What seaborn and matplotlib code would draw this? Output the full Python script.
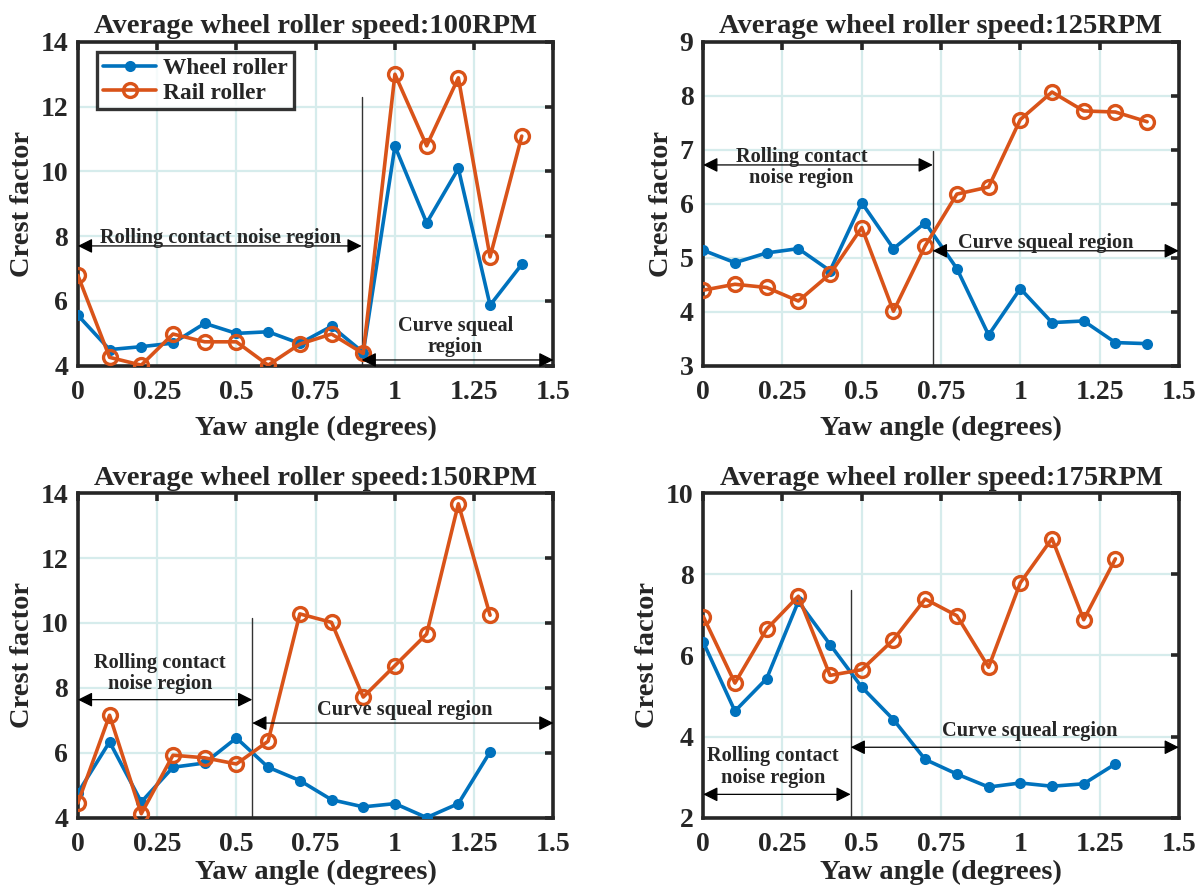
"""Crest factor vs yaw angle for four average wheel roller speeds."""

import matplotlib
matplotlib.use("Agg")
import matplotlib.pyplot as plt
import pandas as pd
import seaborn as sns

# Datos
yaw_14 = [0.0, 0.1, 0.2, 0.3, 0.4, 0.5, 0.6, 0.7, 0.8, 0.9, 1.0, 1.1, 1.2, 1.3, 1.4]
yaw_13 = [0.0, 0.1, 0.2, 0.3, 0.4, 0.5, 0.6, 0.7, 0.8, 0.9, 1.0, 1.1, 1.2, 1.3]

wheel_100 = [5.56, 4.50, 4.59, 4.70, 5.31, 5.00, 5.05, 4.69, 5.22, 4.41,
             10.78, 8.41, 10.09, 5.87, 7.13]
rail_100 = [6.79, 4.26, 4.02, 4.98, 4.74, 4.74, 4.02, 4.67, 4.98, 4.38,
            13.0, 10.79, 12.89, 7.36, 11.09]

wheel_125 = [5.14, 4.91, 5.09, 5.17, 4.76, 6.02, 5.17, 5.65, 4.80, 3.57,
             4.43, 3.80, 3.83, 3.43, 3.41]
rail_125 = [4.40, 4.51, 4.45, 4.20, 4.70, 5.56, 4.01, 5.22, 6.18, 6.31,
            7.56, 8.07, 7.72, 7.70, 7.52]

wheel_150 = [4.77, 6.34, 4.49, 5.56, 5.69, 6.46, 5.56, 5.15, 4.56, 4.34,
             4.44, 4.01, 4.44, 6.03]
rail_150 = [4.46, 7.16, 4.13, 5.93, 5.85, 5.66, 6.36, 10.28, 10.02, 7.72,
            8.69, 9.66, 13.67, 10.24]

wheel_175 = [6.33, 4.63, 5.43, 7.33, 6.27, 5.22, 4.42, 3.44, 3.08, 2.76,
             2.86, 2.78, 2.84, 3.33]
rail_175 = [6.96, 5.32, 6.65, 7.46, 5.51, 5.65, 6.39, 7.39, 6.98, 5.71,
            7.79, 8.88, 6.88, 8.38]

speeds = ["100", "125", "150", "175"]
x_ticks = [0, 0.25, 0.5, 0.75, 1, 1.25, 1.5]
x_tick_labels = ["0", "0.25", "0.5", "0.75", "1", "1.25", "1.5"]

BLUE = "#0072BD"
ORANGE = "#D95319"
GRID = "#d6ecec"
SPINE = "#262626"

sns.set_theme(style="white")
plt.rcParams["font.family"] = ["Liberation Serif", "DejaVu Serif"]
plt.rcParams["font.weight"] = "bold"
plt.rcParams["axes.labelweight"] = "bold"
plt.rcParams["axes.titleweight"] = "bold"

fig = plt.figure(figsize=(11.98, 8.90), dpi=100)

# posiciones de los ejes [left, bottom, width, height]
positions = [
    [0.065, 0.589, 0.397, 0.364],
    [0.587, 0.589, 0.397, 0.364],
    [0.065, 0.081, 0.397, 0.365],
    [0.587, 0.081, 0.397, 0.365],
]
# separacion de la etiqueta x (la fila inferior queda pegada al borde)
xlabel_pads = [8, 8, 2.5, 2.5]

# anotaciones de regiones por panel
annotations = [
    dict(ylim=(4, 14), yticks=[4, 6, 8, 10, 12, 14], xv=0.895, yv_top=12.3,
         roll_y=7.7, roll_txt="Rolling contact noise region", roll_xy=(0.45, 7.95),
         curve_y=4.18, curve_txt="Curve squeal\nregion", curve_xy=(1.19, 4.9)),
    dict(ylim=(3, 9), yticks=[3, 4, 5, 6, 7, 8, 9], xv=0.724, yv_top=6.98,
         roll_y=6.72, roll_txt="Rolling contact\nnoise region", roll_xy=(0.31, 6.67),
         curve_y=5.13, curve_txt="Curve squeal region", curve_xy=(1.08, 5.27)),
    dict(ylim=(4, 14), yticks=[4, 6, 8, 10, 12, 14], xv=0.55, yv_top=10.15,
         roll_y=7.64, roll_txt="Rolling contact\nnoise region", roll_xy=(0.26, 8.45),
         curve_y=6.92, curve_txt="Curve squeal region", curve_xy=(1.03, 7.33)),
    dict(ylim=(2, 10), yticks=[2, 4, 6, 8, 10], xv=0.465, yv_top=7.62,
         roll_y=2.58, roll_txt="Rolling contact\nnoise region", roll_xy=(0.22, 3.25),
         curve_y=3.74, curve_txt="Curve squeal region", curve_xy=(1.03, 4.15)),
]

series = [
    (yaw_14, wheel_100, rail_100),
    (yaw_14, wheel_125, rail_125),
    (yaw_13, wheel_150, rail_150),
    (yaw_13, wheel_175, rail_175),
]

for pos, pad, ann, speed, (yaw, wheel, rail) in zip(
        positions, xlabel_pads, annotations, speeds, series):
    ax = fig.add_axes(pos)
    df = pd.DataFrame({"yaw": yaw, "wheel": wheel, "rail": rail})

    sns.lineplot(data=df, x="yaw", y="wheel", ax=ax, color=BLUE, linewidth=2.6,
                 marker="o", markersize=8, markeredgewidth=0, label="Wheel roller",
                 zorder=3)
    sns.lineplot(data=df, x="yaw", y="rail", ax=ax, color=ORANGE, linewidth=2.6,
                 marker="o", markersize=10, markerfacecolor="none",
                 markeredgecolor=ORANGE, markeredgewidth=2.4, label="Rail roller",
                 zorder=4)

    ax.set_xlim(0, 1.5)
    ax.set_ylim(*ann["ylim"])
    ax.set_xticks(x_ticks)
    ax.set_xticklabels(x_tick_labels)
    ax.set_yticks(ann["yticks"])
    ax.grid(True, color=GRID, linewidth=1.6)
    ax.set_axisbelow(True)

    for s in ax.spines.values():
        s.set_visible(True)
        s.set_color(SPINE)
        s.set_linewidth(2.6)
    ax.tick_params(direction="in", length=6, width=2.6, color=SPINE,
                   top=True, right=True, labelsize=20, labelcolor=SPINE)
    ax.tick_params(axis="x", pad=10)
    ax.tick_params(axis="y", pad=7)
    for lbl in ax.get_xticklabels() + ax.get_yticklabels():
        lbl.set_fontweight("bold")

    ax.set_title(f"Average wheel roller speed:{speed}RPM", fontsize=20.5,
                 fontweight="bold", pad=6)
    ax.set_xlabel("Yaw angle (degrees)", fontsize=20.5, fontweight="bold",
                  color=SPINE, labelpad=pad)
    ax.set_ylabel("Crest factor", fontsize=20.5, fontweight="bold", color=SPINE,
                  labelpad=4)

    # linea divisoria y flechas de region
    ax.plot([ann["xv"], ann["xv"]], [ann["ylim"][0], ann["yv_top"]],
            color="#333333", linewidth=1.0, zorder=2)
    arrow = dict(arrowstyle="<|-|>", color="black", linewidth=0.9,
                 mutation_scale=22, shrinkA=0, shrinkB=0)
    ax.annotate("", xy=(0, ann["roll_y"]), xytext=(ann["xv"], ann["roll_y"]),
                arrowprops=arrow, zorder=5)
    ax.annotate("", xy=(ann["xv"], ann["curve_y"]), xytext=(1.5, ann["curve_y"]),
                arrowprops=arrow, zorder=5)
    ax.text(*ann["roll_xy"], ann["roll_txt"], ha="center", va="center",
            fontsize=14.7, fontweight="bold", linespacing=1.1, zorder=6)
    ax.text(*ann["curve_xy"], ann["curve_txt"], ha="center", va="center",
            fontsize=14.7, fontweight="bold", linespacing=1.1, zorder=6)

    if speed == "100":
        leg = ax.legend(loc="upper left", bbox_to_anchor=(0.04, 0.97),
                        fontsize=16.8, frameon=True, fancybox=False,
                        handlelength=2.3, borderpad=0.25, labelspacing=0.15,
                        handletextpad=0.3, borderaxespad=0)
        leg.get_frame().set_edgecolor("black")
        leg.get_frame().set_linewidth(2.4)
        for t in leg.get_texts():
            t.set_fontweight("bold")
    else:
        ax.get_legend().remove()

fig.savefig("out.png", dpi=100)
